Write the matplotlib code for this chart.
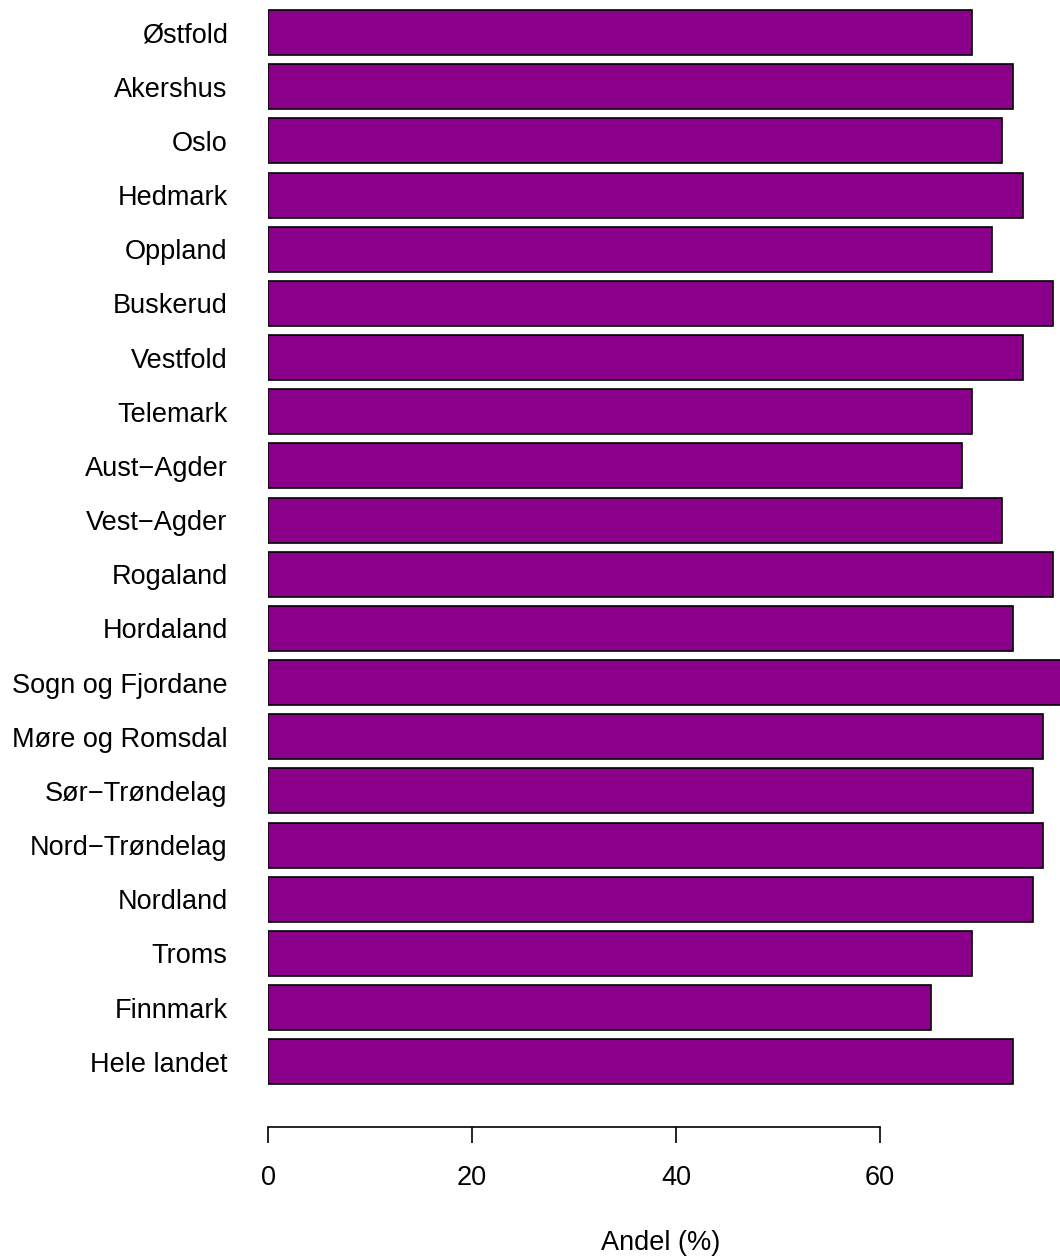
import numpy as np
import matplotlib.pyplot as plt

plt.rcParams['font.family'] = ['Liberation Sans', 'DejaVu Sans']

# Data
fylker = ["Østfold", "Akershus", "Oslo", "Hedmark", "Oppland", "Buskerud",
          "Vestfold", "Telemark", "Aust\u2212Agder", "Vest\u2212Agder", "Rogaland",
          "Hordaland", "Sogn og Fjordane", "Møre og Romsdal", "Sør\u2212Trøndelag",
          "Nord\u2212Trøndelag", "Nordland", "Troms", "Finnmark", "Hele landet"]
andel = [69, 73, 72, 74, 71, 77, 74, 69, 68, 72, 77, 73, 78, 76, 75, 76, 75, 69, 65, 73]
ticks = [0, 20, 40, 60]

W, H = 1060, 1258
fig = plt.figure(figsize=(W / 100, H / 100), dpi=100)

# pixel geometry
x0, px_per_unit = 268, 10.2
y_first, pitch = 32.5, 54.17
y_axis = 1127
ax = fig.add_axes([x0 / W, 1 - y_axis / H, (W - x0) / W, y_axis / H])

pos = np.arange(len(fylker))
ax.barh(pos, andel, height=45 / pitch, color="#8B008B", edgecolor="black", linewidth=1.2)

ax.set_xlim(0, (W - x0) / px_per_unit)
ax.set_ylim((y_axis - y_first) / pitch, -y_first / pitch)

for s in ["top", "right", "left"]:
    ax.spines[s].set_visible(False)
ax.spines["bottom"].set_bounds(0, 60)
ax.spines["bottom"].set_linewidth(1.2)

ax.set_xticks(ticks)
ax.set_xticklabels([str(t) for t in ticks], fontsize=19.5)
ax.tick_params(axis="x", length=11.5, width=1.2, pad=16)

ax.set_yticks(pos)
ax.set_yticklabels(fylker, fontsize=19.5)
ax.tick_params(axis="y", length=0, pad=29)

fig.text(661 / W, 1 - 1243 / H, "Andel (%)", fontsize=19.5, ha="center", va="center")

fig.savefig("out.png", dpi=100)
